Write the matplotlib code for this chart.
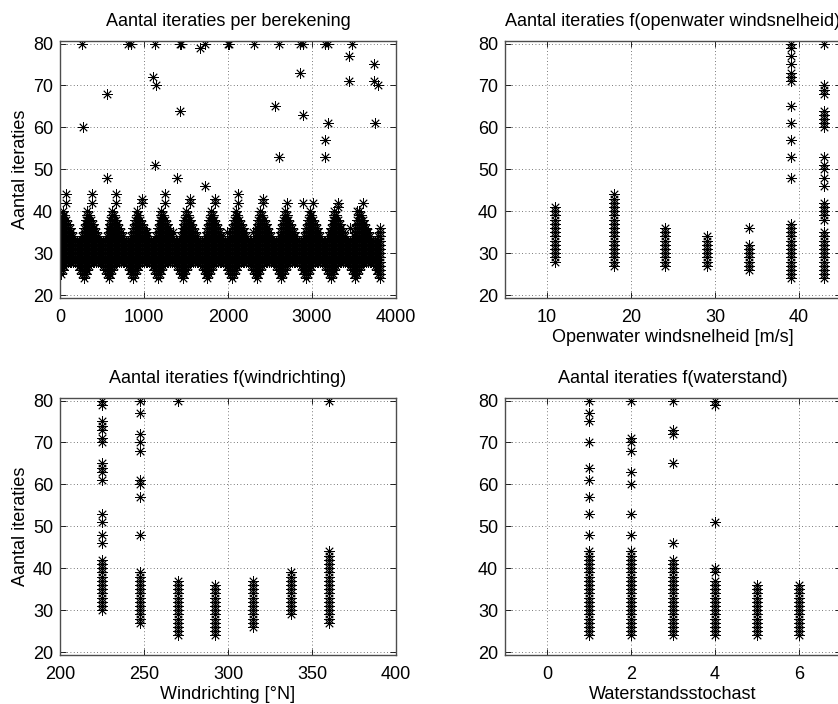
import numpy as np
import matplotlib.pyplot as plt

plt.rcParams['font.family'] = ['Liberation Sans', 'DejaVu Sans']

# --- panel 1: iterations per calculation -------------------------------
# 13 blocks of 294 calculations, each block read as 14 bins of 21 calcs
n_blocks = 13
block_len = 294
bin_len = 21
bin_lo = [25, 26, 27, 28, 28, 28, 28, 28, 28, 28, 27, 26, 25, 24]
bin_hi = [38, 40, 39, 38, 37, 36, 35, 34, 33, 33, 33, 33, 34, 36]

outlier_x = [258, 270, 556, 556, 813, 841, 1103, 1131, 1131, 1143, 1389, 1429, 1440, 1429,
             1667, 1726, 1726, 1996, 2016, 2310, 2560, 2611, 2611, 2857, 2857, 2897, 2897,
             3155, 3155, 3155, 3194, 3194, 3444, 3444, 3472, 3738, 3738, 3750, 3790]
outlier_y = [80, 60, 68, 48, 80, 80, 72, 80, 51, 70, 48, 80, 80, 64,
             79, 80, 46, 80, 80, 80, 65, 80, 53, 80, 73, 80, 63,
             80, 57, 53, 80, 61, 77, 71, 80, 75, 71, 61, 70]

peak_x = [70, 75, 377, 377, 667, 667, 972, 972, 1250, 1250, 1548, 1548, 1845, 1845,
          2119, 2119, 2421, 2421, 2706, 2897, 3016, 3313, 3313, 3532, 3611]
peak_y = [44, 42, 44, 42, 44, 42, 43, 42, 44, 42, 43, 42, 43, 42,
          44, 42, 43, 42, 42, 42, 42, 42, 41, 40, 42]

mid_x = [357, 631, 1036, 1345, 1524, 1988, 2298, 2464, 2738, 3214, 3452, 3655]
mid_y = [35, 35, 35, 35, 35, 35, 35, 35, 35, 35, 36, 35]

# --- panel 2: open water wind speed -------------------------------------
speeds = [11, 18, 24, 29, 34, 39, 43]
speed_lo = [28, 27, 27, 27, 26, 24, 24]
speed_hi = [41, 44, 36, 34, 32, 37, 35]
speed_extra_x = [34] + [39] * 12 + [43] * 19
speed_extra_y = [36,
                 48, 53, 57, 61, 65, 71, 72, 73, 75, 77, 79, 80,
                 38, 39, 40, 41, 42, 46, 48, 50, 51, 53, 60, 61, 62, 63, 64, 68, 69, 70, 80]

# --- panel 3: wind direction ---------------------------------------------
dirs = [225, 247.5, 270, 292.5, 315, 337.5, 360]
dir_lo = [30, 27, 24, 24, 26, 29, 27]
dir_hi = [42, 39, 37, 36, 37, 39, 44]
dir_extra_x = [225] * 15 + [247.5] * 9 + [270, 360]
dir_extra_y = [46, 48, 51, 53, 61, 63, 64, 65, 70, 71, 73, 74, 75, 79, 80,
               48, 57, 60, 61, 68, 70, 72, 77, 80,
               80, 80]

# --- panel 4: water level stochast ---------------------------------------
levels = [1, 2, 3, 4, 5, 6]
lvl_lo = [24, 24, 24, 24, 24, 24]
lvl_hi = [44, 44, 42, 37, 36, 36]
lvl_extra_x = [1] * 9 + [2] * 8 + [3] * 5 + [4] * 5
lvl_extra_y = [48, 53, 57, 61, 64, 70, 75, 77, 80,
               48, 53, 60, 63, 68, 70, 71, 80,
               46, 65, 72, 73, 80,
               39, 40, 51, 79, 80]


def columns(xs, lo, hi):
    px, py = [], []
    for x, a, b in zip(xs, lo, hi):
        for v in range(a, b + 1):
            px.append(x)
            py.append(v)
    return px, py


# cloud of panel 1: every iteration count inside each bin's range
cloud_x, cloud_y = [], []
for b in range(n_blocks):
    start = b * block_len
    centres = [start + i * bin_len + bin_len / 2 for i in range(len(bin_lo))]
    cx, cy = columns(centres, bin_lo, bin_hi)
    cloud_x += cx
    cloud_y += cy

star = dict(marker=(8, 2, 0), linestyle='none', color='black', markersize=7.5,
            markeredgewidth=0.6)
fs = 13

W, H = 838, 704
fig = plt.figure(figsize=(W / 100, H / 100), dpi=100)


def make_ax(left, top, xlim, xticks):
    ax = fig.add_axes([left / W, 1 - (top + 257) / H, 336 / W, 257 / H])
    ax.set_xlim(xlim)
    ax.set_ylim(19.3, 80.6)
    ax.set_xticks(xticks)
    ax.set_yticks(range(20, 81, 10))
    ax.grid(True, color='0.3', linestyle=(0, (1, 3)), linewidth=0.6)
    ax.tick_params(direction='in', length=4, top=True, right=True,
                   labelsize=fs, width=0.6)
    ax.tick_params(axis='x', pad=8)
    ax.tick_params(axis='y', pad=5)
    for s in ax.spines.values():
        s.set_color('0.3')
        s.set_linewidth(1.0)
    return ax


ax1 = make_ax(60, 41, (0, 4000), range(0, 4001, 1000))
ax1.plot(cloud_x, cloud_y, **star)
ax1.plot(outlier_x, outlier_y, **star)
ax1.plot(peak_x, peak_y, **star)
ax1.plot(mid_x, mid_y, **star)
ax1.set_title('Aantal iteraties per berekening', fontsize=fs, pad=11)
ax1.set_ylabel('Aantal iteraties', fontsize=fs, labelpad=3)

ax2 = make_ax(505, 41, (5, 45), [10, 20, 30, 40])
ax2.plot(*columns(speeds, speed_lo, speed_hi), **star)
ax2.plot(speed_extra_x, speed_extra_y, **star)
ax2.set_title('Aantal iteraties f(openwater windsnelheid)', fontsize=fs, pad=11)
ax2.set_xlabel('Openwater windsnelheid [m/s]', fontsize=fs, labelpad=2)

ax3 = make_ax(60, 398, (200, 400), range(200, 401, 50))
ax3.plot(*columns(dirs, dir_lo, dir_hi), **star)
ax3.plot(dir_extra_x, dir_extra_y, **star)
ax3.set_title('Aantal iteraties f(windrichting)', fontsize=fs, pad=11)
ax3.set_ylabel('Aantal iteraties', fontsize=fs, labelpad=3)
ax3.set_xlabel('Windrichting [°N]', fontsize=fs, labelpad=2)

ax4 = make_ax(505, 398, (-1, 7), [0, 2, 4, 6])
ax4.plot(*columns(levels, lvl_lo, lvl_hi), **star)
ax4.plot(lvl_extra_x, lvl_extra_y, **star)
ax4.set_title('Aantal iteraties f(waterstand)', fontsize=fs, pad=11)
ax4.set_xlabel('Waterstandsstochast', fontsize=fs, labelpad=2)

fig.savefig('out.png', dpi=100)
